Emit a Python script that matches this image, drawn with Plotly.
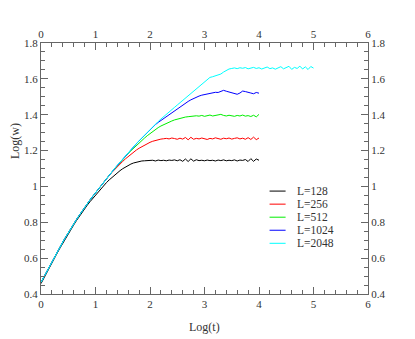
import plotly.graph_objects as go

# ---- data ----
log_t = [round(0.05 * i, 2) for i in range(101)]  # 0.00 .. 5.00

# shared early rise (log_t 0.00 .. 1.25), used by L=256..2048
early_rise = [0.465, 0.494, 0.523, 0.552, 0.580, 0.608, 0.636, 0.663, 0.690, 0.716,
              0.742, 0.767, 0.791, 0.815, 0.838, 0.861, 0.883, 0.904, 0.925, 0.945,
              0.965, 0.985, 1.005, 1.024, 1.043, 1.062]

w_128 = [0.458, 0.488, 0.517, 0.546, 0.574, 0.602, 0.630, 0.657, 0.684, 0.710,
         0.736, 0.761, 0.785, 0.809, 0.832, 0.854, 0.876, 0.896, 0.915, 0.933,
         0.955, 0.972, 0.989, 1.005, 1.021, 1.036, 1.050, 1.063, 1.076, 1.088,
         1.099, 1.109, 1.118, 1.125, 1.131, 1.136, 1.139, 1.142, 1.143, 1.145,
         1.143, 1.146, 1.142, 1.147, 1.144, 1.146, 1.143, 1.147, 1.145, 1.148,
         1.143, 1.149, 1.140, 1.153, 1.139, 1.154, 1.141, 1.149, 1.144, 1.146,
         1.143, 1.147, 1.144, 1.146, 1.142, 1.147, 1.144, 1.148, 1.143, 1.146,
         1.144, 1.148, 1.142, 1.147, 1.145, 1.150, 1.139, 1.155, 1.140, 1.153,
         1.146]

tail_256 = [1.078, 1.095, 1.111, 1.126, 1.140, 1.154, 1.167, 1.180, 1.192, 1.203,
            1.213, 1.222, 1.231, 1.239, 1.246, 1.252, 1.257, 1.261, 1.264, 1.266,
            1.268, 1.265, 1.270, 1.267, 1.263, 1.269, 1.264, 1.273, 1.260, 1.274,
            1.263, 1.268, 1.265, 1.270, 1.266, 1.262, 1.268, 1.265, 1.271, 1.267,
            1.263, 1.269, 1.266, 1.270, 1.264, 1.268, 1.271, 1.265, 1.269, 1.263,
            1.272, 1.262, 1.275, 1.261, 1.270]

tail_512 = [1.080, 1.098, 1.116, 1.134, 1.152, 1.168, 1.184, 1.199, 1.214, 1.228,
            1.242, 1.256, 1.270, 1.283, 1.295, 1.307, 1.318, 1.328, 1.337, 1.345,
            1.352, 1.359, 1.365, 1.371, 1.376, 1.380, 1.384, 1.387, 1.389, 1.391,
            1.390, 1.394, 1.392, 1.396, 1.391, 1.395, 1.398, 1.393, 1.396, 1.399,
            1.402, 1.396, 1.393, 1.397, 1.394, 1.391, 1.396, 1.393, 1.398, 1.392,
            1.395, 1.390, 1.397, 1.388, 1.402]

tail_1024 = [1.080, 1.099, 1.117, 1.135, 1.153, 1.170, 1.187, 1.204, 1.221, 1.238,
             1.254, 1.270, 1.286, 1.302, 1.318, 1.332, 1.345, 1.357, 1.368, 1.379,
             1.389, 1.399, 1.409, 1.420, 1.431, 1.442, 1.453, 1.463, 1.474, 1.483,
             1.491, 1.498, 1.504, 1.509, 1.513, 1.516, 1.519, 1.521, 1.525, 1.524,
             1.530, 1.536, 1.531, 1.527, 1.522, 1.516, 1.514, 1.521, 1.532, 1.529,
             1.527, 1.521, 1.517, 1.524, 1.520]

tail_2048 = [1.081, 1.100, 1.118, 1.136, 1.154, 1.171, 1.188, 1.205, 1.222, 1.239,
             1.255, 1.271, 1.287, 1.303, 1.319, 1.334, 1.348, 1.362, 1.376, 1.390,
             1.403, 1.416, 1.428, 1.441, 1.454, 1.467, 1.479, 1.491, 1.504, 1.517,
             1.530, 1.543, 1.556, 1.569, 1.582, 1.595, 1.608, 1.612, 1.616, 1.620,
             1.627, 1.638, 1.648, 1.655, 1.658, 1.661, 1.657, 1.662, 1.659, 1.663,
             1.656, 1.661, 1.664, 1.658, 1.662, 1.655, 1.660, 1.666, 1.657, 1.661,
             1.654, 1.663, 1.668, 1.656, 1.662, 1.670, 1.653, 1.664, 1.658, 1.671,
             1.655, 1.667, 1.652, 1.669, 1.660]

labels = ["L=128", "L=256", "L=512", "L=1024", "L=2048"]
colors = ["#000000", "#ff0000", "#00ee00", "#0000ff", "#00ffff"]

series = [w_128,
          early_rise + tail_256,
          early_rise + tail_512,
          early_rise + tail_1024,
          early_rise + tail_2048]

x_ticks = [0, 1, 2, 3, 4, 5, 6]
y_ticks = [0.4, 0.6, 0.8, 1.0, 1.2, 1.4, 1.6, 1.8]

FONT = "Liberation Serif, Times New Roman, serif"
TXT = "#333333"
AX = "#666666"

fig = go.Figure()
for name, col, ys in zip(labels, colors, series):
    fig.add_trace(go.Scatter(x=log_t[:len(ys)], y=ys, mode="lines", name=name,
                             line=dict(color=col, width=1), showlegend=False))

# transparent copy on the mirrored (top/right) axes so that they get drawn
fig.add_trace(go.Scatter(x=log_t, y=series[-1], mode="lines", xaxis="x2", yaxis="y2",
                         line=dict(color="rgba(0,0,0,0)", width=1),
                         hoverinfo="skip", showlegend=False))

common_axis = dict(showgrid=False, zeroline=False, showline=True, linecolor=AX,
                   linewidth=1, ticks="inside", ticklen=7, tickcolor=AX, tickwidth=1,
                   automargin=False,
                   tickfont=dict(family=FONT, size=11, color=TXT))

fig.update_layout(
    width=415, height=339,
    margin=dict(l=33, r=55, t=35, b=53),
    paper_bgcolor="white", plot_bgcolor="white",
    showlegend=False,
    xaxis=dict(range=[0, 6], tickvals=x_ticks, ticktext=[str(v) for v in x_ticks],
               minor=dict(dtick=0.2, ticks="inside", ticklen=4, tickcolor=AX),
               **common_axis),
    yaxis=dict(range=[0.4, 1.8], tickvals=y_ticks, ticktext=[f"{v:g}" for v in y_ticks],
               minor=dict(dtick=0.05, ticks="inside", ticklen=4, tickcolor=AX),
               **common_axis),
    xaxis2=dict(range=[0, 6], overlaying="x", side="top", anchor="y",
                tickvals=x_ticks, ticktext=[str(v) for v in x_ticks],
                minor=dict(dtick=0.2, ticks="inside", ticklen=4, tickcolor=AX),
                **common_axis),
    yaxis2=dict(range=[0.4, 1.8], overlaying="y", side="right", anchor="x",
                tickvals=y_ticks, ticktext=[f"{v:g}" for v in y_ticks],
                minor=dict(dtick=0.05, ticks="inside", ticklen=4, tickcolor=AX),
                **common_axis),
)

# axis titles
fig.add_annotation(text="Log(t)", xref="paper", yref="paper", x=0.5, y=-0.133,
                   showarrow=False, font=dict(family=FONT, size=12, color=TXT),
                   xanchor="center", yanchor="middle")
fig.add_annotation(text="Log(w)", xref="paper", yref="paper", x=-0.080, y=0.609,
                   showarrow=False, textangle=-90,
                   font=dict(family=FONT, size=12, color=TXT),
                   xanchor="center", yanchor="middle")

# legend (drawn as sample lines + labels, compact like the original)
leg_y = [0.410, 0.358, 0.306, 0.254, 0.202]
for name, col, yy in zip(labels, colors, leg_y):
    fig.add_shape(type="line", xref="paper", yref="paper", x0=0.699, x1=0.748,
                  y0=yy, y1=yy, line=dict(color=col, width=1))
    fig.add_annotation(text=name, xref="paper", yref="paper", x=0.776, y=yy,
                       showarrow=False, xanchor="left", yanchor="middle",
                       font=dict(family=FONT, size=11.5, color=TXT))

fig.write_html("out.html")
